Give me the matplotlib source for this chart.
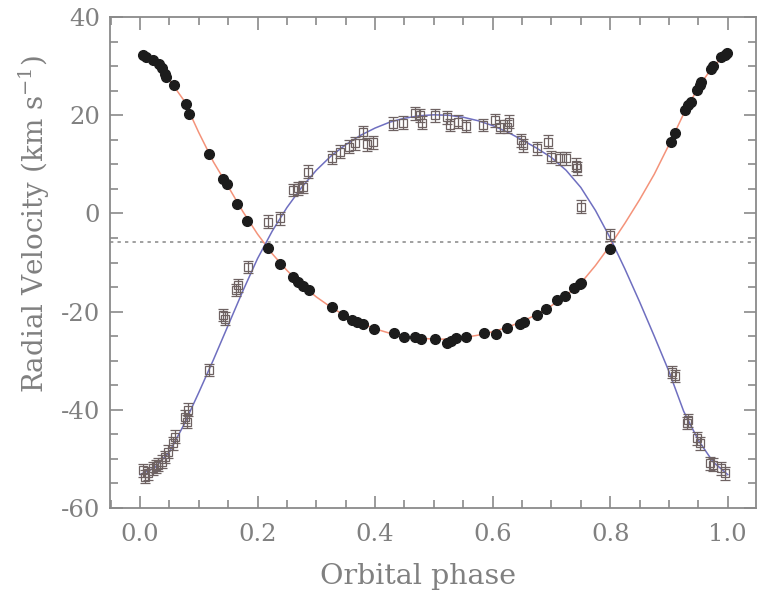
import numpy as np
import matplotlib
matplotlib.use("Agg")
import matplotlib.pyplot as plt
from matplotlib.ticker import MultipleLocator

# systemic velocity (dotted line)
gamma = -5.8

# primary star: filled circles
prim_phase = [0.005, 0.010, 0.022, 0.032, 0.037, 0.043, 0.044, 0.058, 0.078, 0.083,
              0.117, 0.142, 0.148, 0.165, 0.182, 0.218, 0.238, 0.261, 0.269, 0.278,
              0.288, 0.327, 0.345, 0.360, 0.370, 0.380, 0.398, 0.432, 0.449, 0.468,
              0.478, 0.502, 0.522, 0.530, 0.537, 0.555, 0.586, 0.605, 0.625, 0.646,
              0.653, 0.675, 0.691, 0.710, 0.723, 0.738, 0.748, 0.751, 0.799, 0.904,
              0.910, 0.927, 0.932, 0.937, 0.947, 0.952, 0.955, 0.972, 0.975, 0.989,
              0.995, 0.998]
prim_rv = [32.3, 31.9, 31.2, 30.5, 29.6, 28.4, 27.8, 26.1, 22.4, 20.3,
           12.2, 7.0, 6.0, 1.9, -1.5, -7.0, -10.2, -12.9, -13.9, -14.8,
           -15.6, -19.0, -20.6, -21.7, -22.1, -22.5, -23.6, -24.4, -25.2, -25.2,
           -25.6, -25.6, -26.3, -25.9, -25.4, -25.2, -24.4, -24.5, -23.4, -22.6,
           -22.2, -20.7, -19.5, -17.6, -16.8, -15.1, -14.4, -14.2, -7.3, 14.6,
           16.4, 21.1, 22.1, 22.8, 25.1, 26.2, 26.8, 29.5, 30.0, 31.8,
           32.3, 32.6]

# secondary star: open squares with error bars
sec_phase = [0.006, 0.009, 0.014, 0.022, 0.028, 0.031, 0.037, 0.043, 0.048, 0.057,
             0.060, 0.077, 0.080, 0.082, 0.118, 0.142, 0.145, 0.164, 0.167, 0.184,
             0.218, 0.238, 0.261, 0.269, 0.278, 0.286, 0.326, 0.340, 0.355, 0.366,
             0.380, 0.386, 0.397, 0.431, 0.448, 0.468, 0.476, 0.479, 0.502, 0.522,
             0.527, 0.541, 0.554, 0.584, 0.604, 0.612, 0.625, 0.628, 0.649, 0.652,
             0.676, 0.695, 0.700, 0.714, 0.725, 0.742, 0.743, 0.750, 0.799, 0.905,
             0.910, 0.930, 0.932, 0.947, 0.952, 0.969, 0.975, 0.989, 0.995]
sec_rv = [-52.3, -53.6, -52.9, -51.9, -51.5, -51.2, -50.6, -49.6, -48.5, -46.8,
          -45.5, -41.4, -42.4, -40.0, -31.9, -20.7, -21.4, -15.6, -14.6, -10.9,
          -1.7, -1.0, 4.8, 5.1, 5.4, 8.5, 11.4, 12.6, 13.6, 14.3,
          16.5, 14.1, 14.5, 18.3, 18.5, 20.4, 20.0, 18.5, 20.0, 19.6,
          18.0, 18.7, 17.8, 18.0, 19.0, 17.7, 17.7, 18.7, 14.9, 13.9,
          13.3, 14.6, 11.5, 11.2, 11.2, 9.9, 9.2, 1.4, -4.4, -32.3,
          -33.1, -42.7, -42.1, -45.8, -46.8, -50.9, -51.2, -51.9, -52.9]
sec_err = 1.3

# orbit fits, every 0.025 in phase
curve_phase = np.linspace(0.0, 1.0, 41)
prim_fit = [32.6, 31.2, 27.2, 23.0, 16.5, 10.5, 5.5, 0.4, -4.2, -8.2,
            -11.6, -14.5, -17.0, -19.1, -20.9, -22.3, -23.5, -24.4, -25.0, -25.4,
            -25.6, -25.6, -25.3, -24.8, -24.1, -23.2, -22.0, -20.6, -18.8, -16.7,
            -14.2, -10.6, -6.5, -2.0, 2.8, 8.0, 14.0, 20.3, 25.7, 30.0,
            32.6]
sec_fit = [-53.2, -51.8, -48.6, -43.0, -36.5, -29.8, -22.8, -15.8, -9.2, -3.6,
           1.2, 5.3, 8.8, 11.7, 14.0, 15.9, 17.4, 18.6, 19.4, 19.9,
           20.1, 20.0, 19.6, 18.9, 17.9, 16.6, 15.0, 13.3, 11.4, 8.8,
           5.3, 0.6, -5.0, -11.3, -18.0, -25.0, -32.2, -40.3, -46.2, -50.6,
           -53.2]

GREY = "#8a8a8a"
TEXT = "#808080"

plt.rcParams["font.family"] = ["DejaVu Serif"]
plt.rcParams["mathtext.fontset"] = "dejavuserif"
plt.rcParams["axes.unicode_minus"] = False

fig = plt.figure(figsize=(7.6, 5.9), dpi=100)
ax = fig.add_axes([0.1447, 0.139, 0.85, 0.832])

ax.axhline(gamma, color="#909090", linestyle=(0, (2, 2.5)), linewidth=1.2, zorder=1)
ax.plot(curve_phase, prim_fit, color="#f4937a", linewidth=1.1, zorder=2)
ax.plot(curve_phase, sec_fit, color="#6f6fc0", linewidth=1.1, zorder=2)

ax.errorbar(sec_phase, sec_rv, yerr=sec_err, fmt="s", mfc="none", mec="#6e6262",
            ms=5.5, mew=0.9, ecolor="#6e6262", elinewidth=0.9, capsize=3.5,
            capthick=0.9, zorder=3)
ax.plot(prim_phase, prim_rv, "o", color="#1c1c1c", ms=7, zorder=4)

ax.set_xlim(-0.051, 1.048)
ax.set_ylim(-60, 40)
ax.xaxis.set_major_locator(MultipleLocator(0.2))
ax.xaxis.set_minor_locator(MultipleLocator(0.05))
ax.yaxis.set_major_locator(MultipleLocator(20))
ax.yaxis.set_minor_locator(MultipleLocator(5))
ax.xaxis.set_major_formatter(lambda v, pos: f"{v:.1f}")

ax.tick_params(which="both", direction="in", top=True, right=True,
               color=GREY, width=1.2, labelcolor=TEXT, labelsize=17.5)
ax.tick_params(axis="x", which="both", pad=11)
ax.tick_params(axis="y", which="both", pad=7)
ax.tick_params(which="major", length=9)
ax.tick_params(which="minor", length=5.5)
for s in ax.spines.values():
    s.set_color(GREY)
    s.set_linewidth(1.3)

ax.set_xlabel("Orbital phase", color=TEXT, fontsize=20.5)
ax.set_ylabel(r"Radial Velocity (km s$^{-1}$)", color=TEXT, fontsize=20)
ax.xaxis.set_label_coords(0.477, -0.112)
ax.yaxis.set_label_coords(-0.09, 0.578)

fig.savefig("out.png", dpi=100)
